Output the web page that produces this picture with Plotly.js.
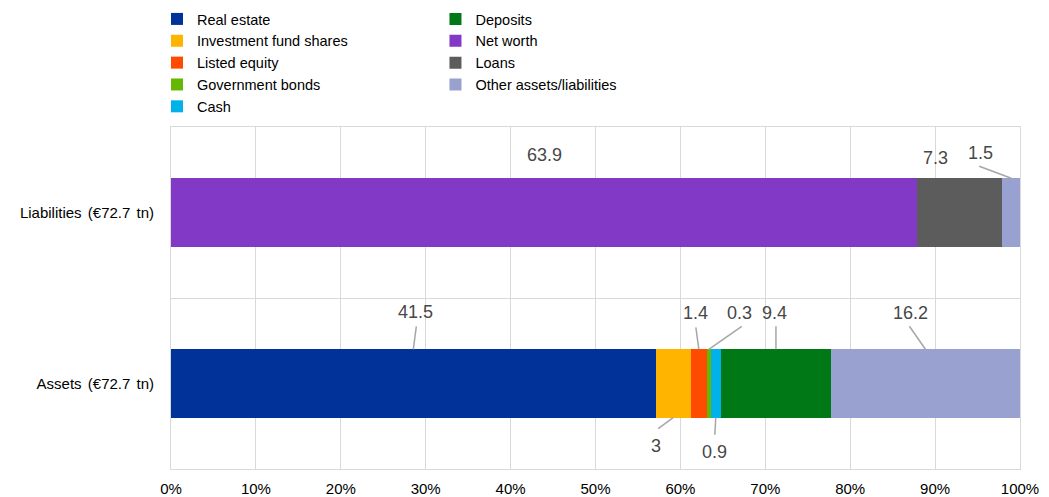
<!DOCTYPE html>
<html>
<head>
<meta charset="utf-8">
<script src="https://cdn.plot.ly/plotly-3.0.1.min.js"></script>
<style>
  html, body { margin: 0; padding: 0; background: #ffffff; }
  #chart { width: 1049px; height: 497px; }
  /* slightly looser word spacing for the category labels */
  #chart .ytick text { word-spacing: 2px; }
</style>
</head>
<body>
<div id="chart"></div>
<script>
// Household balance sheet, € trillion, shown as shares of each side
const categories = ['Assets (€72.7 tn)', 'Liabilities (€72.7 tn)'];

// [assets, liabilities]
const realEstate   = [41.5, null];
const fundShares   = [3, null];
const listedEquity = [1.4, null];
const govBonds     = [0.3, null];
const cash         = [0.9, null];
const deposits     = [9.4, null];
const netWorth     = [null, 63.9];
const loans        = [null, 7.3];
const otherItems   = [16.2, 1.5];

const seriesNames = ['Real estate', 'Investment fund shares', 'Listed equity',
  'Government bonds', 'Cash', 'Deposits', 'Net worth', 'Loans', 'Other assets/liabilities'];
const seriesValues = [realEstate, fundShares, listedEquity, govBonds, cash,
  deposits, netWorth, loans, otherItems];
const seriesColors = ['#003299', '#FFB400', '#FF4B00', '#65B800', '#00B1EA',
  '#007816', '#8139C6', '#5C5C5C', '#98A1D0'];
// first five entries in the left legend column, the rest in the right one
const seriesLegend = ['legend', 'legend', 'legend', 'legend', 'legend',
  'legend2', 'legend2', 'legend2', 'legend2'];

const traces = seriesNames.map((name, i) => ({
  type: 'bar',
  orientation: 'h',
  name: name,
  y: [0, 1],
  x: seriesValues[i],
  marker: { color: seriesColors[i], line: { width: 0 } },
  legend: seriesLegend[i],
  hoverinfo: 'name+x'
}));

// Value callouts: which segment, which bar edge, text offset and leader-line start (px, screen coords)
const callouts = [
  { s: 0, c: 0, edge: 'top',    text: [2, -37],   lead: [3, -23] },
  { s: 1, c: 0, edge: 'bottom', text: [-17, 28],  lead: [-15, 11] },
  { s: 2, c: 0, edge: 'top',    text: [-3, -36],  lead: [-3, -22] },
  { s: 3, c: 0, edge: 'top',    text: [31, -36],  lead: [33, -23] },
  { s: 4, c: 0, edge: 'bottom', text: [-1, 34],   lead: [-1, 17] },
  { s: 5, c: 0, edge: 'top',    text: [-1, -36],  lead: [0, -23] },
  { s: 8, c: 0, edge: 'top',    text: [-15, -36], lead: [-16, -23] },
  { s: 6, c: 1, edge: 'top',    text: [0, -23],   lead: null },
  { s: 7, c: 1, edge: 'top',    text: [-24, -20], lead: null },
  { s: 8, c: 1, edge: 'top',    text: [-31, -25], lead: [-32, -12] }
];

const barHalf = 0.2;

function segmentMid(s, c) {
  let total = 0, before = 0;
  seriesValues.forEach((vals, i) => {
    const v = vals[c] || 0;
    total += v;
    if (i < s) before += v;
  });
  const v = seriesValues[s][c] || 0;
  return (before + v / 2) / total * 100;
}

const annotations = [];
const shapes = [];
callouts.forEach(cl => {
  const xm = segmentMid(cl.s, cl.c);
  const ye = cl.c + (cl.edge === 'top' ? barHalf : -barHalf);
  annotations.push({
    xref: 'x', yref: 'y', x: xm, y: ye,
    text: String(seriesValues[cl.s][cl.c]),
    showarrow: false,
    xanchor: 'center', yanchor: 'middle',
    xshift: cl.text[0], yshift: -cl.text[1],
    font: { family: 'Liberation Sans, Arial, sans-serif', size: 18, color: '#474747' }
  });
  if (cl.lead) {
    shapes.push({
      type: 'line', layer: 'above',
      xref: 'x', yref: 'y',
      xsizemode: 'pixel', ysizemode: 'pixel',
      xanchor: xm, yanchor: ye,
      x0: cl.lead[0], y0: -cl.lead[1], x1: 0, y1: 0,
      line: { color: '#a6a6a6', width: 1.5 }
    });
  }
});

const gridColor = '#d9d9d9';
const baseFont = { family: 'Liberation Sans, Arial, sans-serif', size: 15, color: '#000000' };
const legendFont = { family: 'Liberation Sans, Arial, sans-serif', size: 14.5, color: '#000000' };

const layout = {
  width: 1049, height: 497,
  margin: { l: 171, r: 29, t: 127, b: 28, pad: 0 },
  paper_bgcolor: '#ffffff', plot_bgcolor: '#ffffff',
  barmode: 'stack', barnorm: 'percent', bargap: 0.6,
  font: baseFont,
  showlegend: true,
  xaxis: {
    range: [0, 100], dtick: 10, ticksuffix: '%',
    showgrid: true, gridcolor: gridColor, gridwidth: 1,
    zeroline: false,
    showline: true, mirror: true, linecolor: gridColor, linewidth: 1,
    ticks: '', ticklabelstandoff: 6,
    tickfont: baseFont, fixedrange: true
  },
  yaxis: {
    type: 'category',
    range: [-0.5, 1.5],
    tickmode: 'array', tickvals: [0, 1], ticktext: categories,
    tickson: 'boundaries',
    showgrid: true, gridcolor: gridColor, gridwidth: 1,
    zeroline: false,
    showline: true, mirror: true, linecolor: gridColor, linewidth: 1,
    ticks: '', ticklabelstandoff: 13,
    tickfont: baseFont, fixedrange: true
  },
  legend: {
    xref: 'paper', x: -0.0165, xanchor: 'left',
    yref: 'container', y: 1 - 3 / 497, yanchor: 'top',
    orientation: 'v', traceorder: 'normal',
    bgcolor: 'rgba(0,0,0,0)', borderwidth: 0,
    font: legendFont
  },
  legend2: {
    xref: 'paper', x: 0.3115, xanchor: 'left',
    yref: 'container', y: 1 - 3 / 497, yanchor: 'top',
    orientation: 'v', traceorder: 'normal',
    bgcolor: 'rgba(0,0,0,0)', borderwidth: 0,
    font: legendFont
  },
  annotations: annotations,
  shapes: shapes
};

Plotly.newPlot('chart', traces, layout, { displayModeBar: false, staticPlot: true });
</script>
</body>
</html>
